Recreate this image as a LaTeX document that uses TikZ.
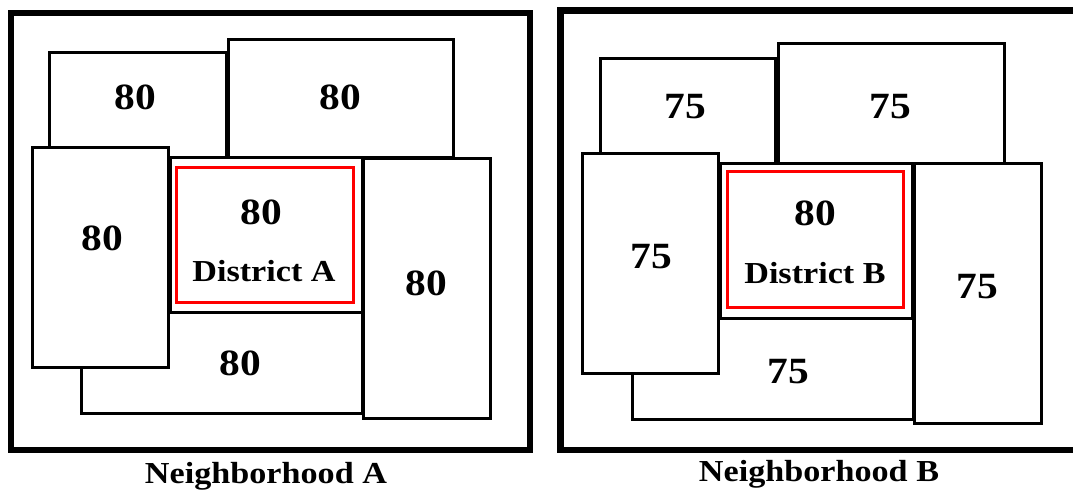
\documentclass[tikz,border=0pt]{standalone}
\usepackage{fontspec}
\setmainfont{Liberation Serif}
\usepackage{graphicx}
\newcommand{\widetext}[1]{\scalebox{1.12}[1]{#1}}
\begin{document}
\begin{tikzpicture}[x=1pt,y=-1pt,
  lot/.style={draw=black,line width=3pt,fill=white},
  framebox/.style={draw=black,line width=6.5pt},
  dist/.style={draw=red,line width=3pt},
  num/.style={inner sep=0pt,font=\fontsize{37}{37}\selectfont\bfseries},
  lab/.style={inner sep=0pt,font=\fontsize{30.5}{30.5}\selectfont\bfseries}]
\useasboundingbox (0,0) rectangle (1073,491);
\fill[white] (0,0) rectangle (1073,491);

% ---------- Neighborhood A ----------
\draw[framebox] (11,13) rectangle (530,450);
\draw[lot] (49,52) rectangle (226,157);
\draw[lot] (228,39) rectangle (453,157);
\draw[lot] (81,312) rectangle (362,413);
\draw[lot] (170,157) rectangle (362,312);
\draw[dist] (176,167) rectangle (353,302);
\draw[lot] (32,147) rectangle (168,367);
\draw[lot] (363,158) rectangle (490,418);

\node[num] (a1) at (135,97) {\widetext{80}};
\node[num] (a2) at (340,97) {\widetext{80}};
\node[num] (a3) at (102,238) {\widetext{80}};
\node[num] (a4) at (261,212) {\widetext{80}};
\node[lab] (a5) at (264,271) {\widetext{District A}};
\node[num] (a6) at (426,283) {\widetext{80}};
\node[num] (a7) at (240,363) {\widetext{80}};
\node[lab,anchor=base] (a8) at (266,483) {\widetext{Neighborhood A}};

% ---------- Neighborhood B ----------
\draw[framebox] (560.5,10.5) rectangle (1078,450);
\draw[lot] (600,58) rectangle (775,163);
\draw[lot] (778,43) rectangle (1004,163);
\draw[lot] (632,318) rectangle (913,419);
\draw[lot] (720,163) rectangle (912,318);
\draw[dist] (727,171) rectangle (903,307);
\draw[lot] (582,153) rectangle (718,373);
\draw[lot] (914,163) rectangle (1041,423);

\node[num] (b1) at (685,107) {\widetext{75}};
\node[num] (b2) at (890,107) {\widetext{75}};
\node[num] (b3) at (651,257) {\widetext{75}};
\node[num] (b4) at (815,213) {\widetext{80}};
\node[lab] (b5) at (815,273) {\widetext{District B}};
\node[num] (b6) at (977,287) {\widetext{75}};
\node[num] (b7) at (788,372) {\widetext{75}};
\node[lab,anchor=base] (b8) at (819,481) {\widetext{Neighborhood B}};
\end{tikzpicture}
\end{document}
